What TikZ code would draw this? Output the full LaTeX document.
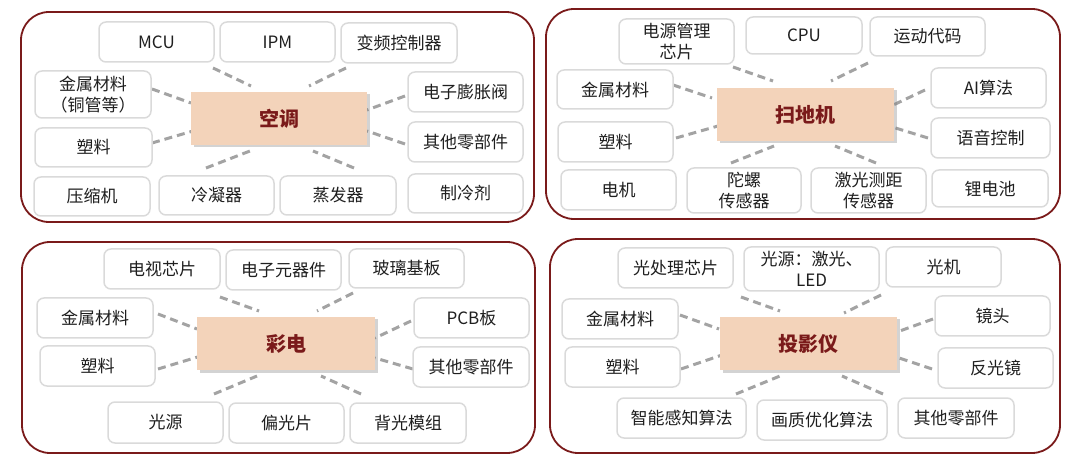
\documentclass[tikz,border=0pt]{standalone}
\usepackage{fontspec}
\newfontfamily\cjk{Noto Sans CJK SC}
\usetikzlibrary{shadows}
\definecolor{panelred}{HTML}{7A1A1A}
\definecolor{boxgray}{HTML}{DADADA}
\definecolor{centerfill}{HTML}{F3D3BA}
\definecolor{dashgray}{HTML}{A3A3A3}
\definecolor{txt}{HTML}{1F1F1F}
\tikzset{
  panel/.style={draw=panelred, line width=1.8pt, rounded corners=28pt},
  leaf/.style={draw=boxgray, line width=1.5pt, rounded corners=7pt, fill=white, align=center,
    inner sep=0pt, text=txt, font=\cjk\fontsize{17}{21}\selectfont},
  hub/.style={fill=centerfill, inner sep=0pt, text=panelred,
    font=\cjk\bfseries\fontsize{20}{24}\selectfont,
    drop shadow={opacity=0.35, shadow xshift=2.5pt, shadow yshift=-2.5pt, fill=gray}},
  link/.style={draw=dashgray, line width=3pt, dash pattern=on 8pt off 5pt}
}
\newcommand\leafbox[6]{\node[leaf, minimum width={(#4-#2)*1pt}, minimum height={(#5-#3)*1pt}] (#1) at ({(#2+#4)/2},{(#3+#5)/2}) {#6};}
\newcommand\hubbox[6]{\node[hub, minimum width={(#4-#2)*1pt}, minimum height={(#5-#3)*1pt}] (#1) at ({(#2+#4)/2},{(#3+#5)/2}) {#6};}
\newcommand\dl[5]{\coordinate (#1s) at (#2,#3); \coordinate (#1e) at (#4,#5); \draw[link] (#1s) -- (#1e);}
\begin{document}
\begin{tikzpicture}[x=1pt,y=-1pt]
\useasboundingbox (0,0) rectangle (1080,465);
% panels
\draw[panel] (21,12) rectangle (534,222);
\draw[panel] (546,9) rectangle (1060,219);
\draw[panel] (22,242) rectangle (535,453);
\draw[panel] (550,239) rectangle (1060,453);

% ---------- panel 1: 空调
\dl{a1}{213}{68}{251}{86}
\dl{a2}{346}{68}{309}{86}
\dl{a3}{152}{89}{191}{103}
\dl{a4}{152}{143}{193}{131}
\dl{a5}{405}{96}{367}{110}
\dl{a6}{405}{144}{367}{131}
\dl{a7}{206}{168}{250}{151}
\dl{a8}{354}{168}{313}{151}
\hubbox{ac}{191}{92}{367}{145}{空调}
\leafbox{ac1}{99}{22}{214}{62}{MCU}
\leafbox{ac2}{220}{22}{335}{62}{IPM}
\leafbox{ac3}{341}{23}{457}{63}{变频控制器}
\leafbox{ac4}{35}{71}{151}{118}{金属材料\\（铜管等）}
\leafbox{ac5}{408}{72}{523}{112}{电子膨胀阀}
\leafbox{ac6}{35}{128}{152}{167}{塑料}
\leafbox{ac7}{408}{122}{523}{162}{其他零部件}
\leafbox{ac8}{34}{177}{150}{216}{压缩机}
\leafbox{ac9}{159}{176}{274}{215}{冷凝器}
\leafbox{ac10}{280}{176}{396}{215}{蒸发器}
\leafbox{ac11}{408}{174}{523}{213}{制冷剂}

% ---------- panel 2: 扫地机
\dl{b1}{733}{67}{773}{81}
\dl{b2}{868}{63}{831}{81}
\dl{b3}{673}{85}{712}{98}
\dl{b4}{676}{138}{718}{126}
\dl{b5}{925}{90}{889}{107}
\dl{b6}{928}{138}{889}{126}
\dl{b7}{731}{163}{774}{146}
\dl{b8}{876}{163}{835}{146}
\hubbox{sw}{717}{88}{894}{141}{扫地机}
\leafbox{sw1}{619}{19}{734}{64}{电源管理\\芯片}
\leafbox{sw2}{746}{17}{862}{54}{CPU}
\leafbox{sw3}{870}{17}{985}{56}{运动代码}
\leafbox{sw4}{557}{70}{673}{109}{金属材料}
\leafbox{sw5}{931}{68}{1046}{108}{AI算法}
\leafbox{sw6}{558}{122}{673}{162}{塑料}
\leafbox{sw7}{931}{118}{1050}{158}{语音控制}
\leafbox{sw8}{561}{170}{676}{210}{电机}
\leafbox{sw9}{687}{168}{801}{213}{陀螺\\传感器}
\leafbox{sw10}{811}{168}{926}{213}{激光测距\\传感器}
\leafbox{sw11}{932}{170}{1048}{207}{锂电池}

% ---------- panel 3: 彩电
\dl{c1}{220}{297}{259}{311}
\dl{c2}{353}{293}{317}{311}
\dl{c3}{158}{314}{197}{329}
\dl{c4}{158}{369}{201}{356}
\dl{c5}{411}{321}{375}{338}
\dl{c6}{413}{369}{375}{358}
\dl{c7}{214}{394}{257}{376}
\dl{c8}{361}{394}{321}{376}
\hubbox{tv}{197}{317}{375}{370}{彩电}
\leafbox{tv1}{104}{249}{220}{289}{电视芯片}
\leafbox{tv2}{226}{250}{341}{290}{电子元器件}
\leafbox{tv3}{349}{249}{464}{288}{玻璃基板}
\leafbox{tv4}{37}{298}{153}{338}{金属材料}
\leafbox{tv5}{414}{298}{529}{338}{PCB板}
\leafbox{tv6}{40}{346}{155}{386}{塑料}
\leafbox{tv7}{413}{347}{529}{387}{其他零部件}
\leafbox{tv8}{108}{402}{223}{443}{光源}
\leafbox{tv9}{229}{403}{344}{443}{偏光片}
\leafbox{tv10}{350}{403}{466}{443}{背光模组}

% ---------- panel 4: 投影仪
\dl{d1}{741}{297}{780}{311}
\dl{d2}{881}{295}{844}{313}
\dl{d3}{680}{315}{719}{329}
\dl{d4}{681}{369}{722}{355}
\dl{d5}{933}{319}{897}{332}
\dl{d6}{932}{369}{893}{356}
\dl{d7}{736}{394}{780}{376}
\dl{d8}{883}{394}{842}{376}
\hubbox{pj}{720}{317}{897}{370}{投影仪}
\leafbox{pj1}{618}{248}{733}{288}{光处理芯片}
\leafbox{pj2}{744}{247}{879}{291}{光源：激光、\\LED}
\leafbox{pj3}{886}{247}{1001}{287}{光机}
\leafbox{pj4}{562}{299}{678}{339}{金属材料}
\leafbox{pj5}{935}{296}{1050}{336}{镜头}
\leafbox{pj6}{565}{347}{680}{387}{塑料}
\leafbox{pj7}{938}{348}{1053}{388}{反光镜}
\leafbox{pj8}{617}{398}{746}{438}{智能感知算法}
\leafbox{pj9}{757}{400}{887}{440}{画质优化算法}
\leafbox{pj10}{898}{398}{1014}{438}{其他零部件}
\end{tikzpicture}
\end{document}
